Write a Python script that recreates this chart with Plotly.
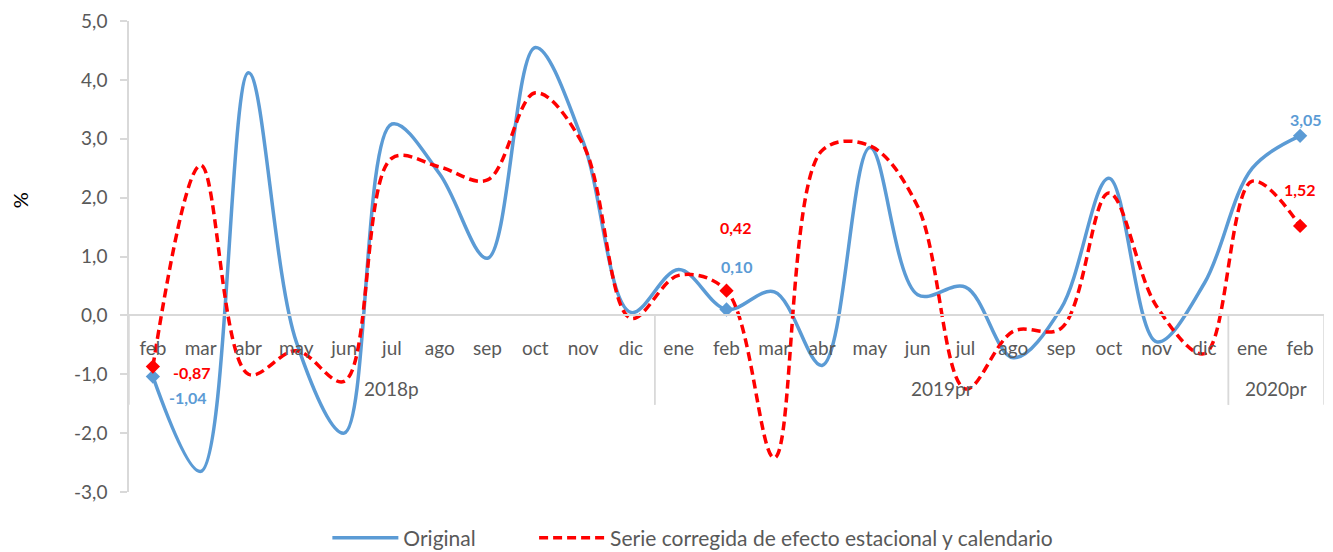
import plotly.graph_objects as go

months = ["feb", "mar", "abr", "may", "jun", "jul", "ago", "sep", "oct", "nov", "dic",
          "ene", "feb", "mar", "abr", "may", "jun", "jul", "ago", "sep", "oct", "nov", "dic",
          "ene", "feb"]
years = ["2018p"] * 11 + ["2019pr"] * 12 + ["2020pr"] * 2

original = [-1.04, -2.65, 4.12, -0.45, -2.00, 3.25, 2.40, 0.97, 4.55, 2.95, 0.05,
            0.78, 0.10, 0.40, -0.85, 2.85, 0.35, 0.48, -0.72, 0.12, 2.33, -0.45, 0.55,
            2.50, 3.05]
corrected = [-0.87, 2.55, -1.00, -0.60, -1.12, 2.67, 2.52, 2.30, 3.78, 2.90, -0.05,
             0.68, 0.42, -2.42, 2.80, 2.88, 1.85, -1.25, -0.27, -0.22, 2.08, 0.15, -0.65,
             2.28, 1.52]

y_ticks = [-3, -2, -1, 0, 1, 2, 3, 4, 5]

marked = [0, 12, 24]

BLUE = "#5B9BD5"
RED = "#FF0000"
GREY = "#595959"
LINE = "#D9D9D9"
FONT = "Lato, Open Sans, sans-serif"

idx = list(range(len(months)))
ymin, ymax = y_ticks[0], y_ticks[-1]
zero_pos = (0 - ymin) / (ymax - ymin)

fig = go.Figure()
fig.add_trace(go.Scatter(x=idx, y=original, mode="lines", name="Original", legend="legend",
                         line=dict(color=BLUE, width=3.5, shape="spline", smoothing=1.0)))
fig.add_trace(go.Scatter(x=idx, y=corrected, mode="lines", legend="legend2",
                         name="Serie corregida de efecto estacional y calendario",
                         line=dict(color=RED, width=3.5, shape="spline", smoothing=1.0,
                                   dash="9px,5px")))
fig.add_trace(go.Scatter(x=marked, y=[original[i] for i in marked], mode="markers",
                         showlegend=False, hoverinfo="skip",
                         marker=dict(symbol="diamond", size=11, color=BLUE)))
fig.add_trace(go.Scatter(x=marked, y=[corrected[i] for i in marked], mode="markers",
                         showlegend=False, hoverinfo="skip",
                         marker=dict(symbol="diamond", size=11, color=RED)))

def fmt(v, d=2):
    return f"{v:.{d}f}".replace(".", ",")

offsets_orig = {0: (35, -21), 12: (10, 43), 24: (6, 16)}
offsets_corr = {0: (39, -6), 12: (9, 63), 24: (0, 36)}
for i, (dx, dy) in offsets_orig.items():
    fig.add_annotation(x=i, y=original[i], xref="x", yref="y", text=f"<b>{fmt(original[i])}</b>",
                       showarrow=False, xshift=dx, yshift=dy, xanchor="center", yanchor="middle",
                       font=dict(color=BLUE, size=16, family=FONT))
for i, (dx, dy) in offsets_corr.items():
    fig.add_annotation(x=i, y=corrected[i], xref="x", yref="y", text=f"<b>{fmt(corrected[i])}</b>",
                       showarrow=False, xshift=dx, yshift=dy, xanchor="center", yanchor="middle",
                       font=dict(color=RED, size=16, family=FONT))

# year group labels and dividers
groups = []
for i, yv in enumerate(years):
    if not groups or groups[-1][0] != yv:
        groups.append([yv, i, i])
    else:
        groups[-1][2] = i
year_label_y = 0.2187
divider_bottom = 0.185
for name, a, b in groups:
    fig.add_annotation(x=(a + b) / 2, y=year_label_y, xref="x", yref="paper", text=name,
                       showarrow=False, xanchor="center", yanchor="middle",
                       font=dict(color=GREY, size=19, family=FONT))
    for edge in (a - 0.5, b + 0.5):
        fig.add_shape(type="line", x0=edge, x1=edge, y0=divider_bottom, y1=zero_pos,
                      xref="x", yref="paper", line=dict(color=LINE, width=1.5))

fig.add_annotation(x=-0.091, y=0.62, xref="paper", yref="paper", text="%", textangle=-90,
                   showarrow=False, xanchor="center", yanchor="middle",
                   font=dict(color="black", size=20, family=FONT))

legend_style = dict(orientation="h", y=-0.098, yanchor="middle", xanchor="left",
                    font=dict(size=21, color=GREY, family=FONT), itemwidth=66,
                    bgcolor="rgba(0,0,0,0)")

# page body has an 8px margin: size the figure so the plot lands where the reference has it
fig.update_layout(
    width=1325, height=544,
    margin=dict(l=121, r=9, t=13, b=60, autoexpand=False),
    paper_bgcolor="white", plot_bgcolor="white",
    font=dict(family=FONT, color=GREY, size=18),
    showlegend=True,
    legend=dict(x=0.166, **legend_style),
    legend2=dict(x=0.339, **legend_style),
    xaxis=dict(anchor="free", position=zero_pos, automargin=False,
               tickmode="array", tickvals=idx, ticktext=months,
               showline=True, linecolor=LINE, linewidth=1.5,
               ticks="", ticklabelstandoff=16, showgrid=False, zeroline=False,
               tickfont=dict(size=19, color=GREY, family=FONT),
               range=[-0.5, len(months) - 0.5]),
    yaxis=dict(range=[ymin, ymax], tickmode="array", tickvals=y_ticks,
               ticktext=[fmt(v, 1) for v in y_ticks], showgrid=False,
               automargin=False,
               zeroline=False, showline=True, linecolor=LINE, linewidth=1.5,
               ticks="outside", ticklen=7, tickcolor=LINE, tickwidth=1.5,
               ticklabelstandoff=9,
               tickfont=dict(size=19, color=GREY, family=FONT)),
)

fig.write_html("out.html")
